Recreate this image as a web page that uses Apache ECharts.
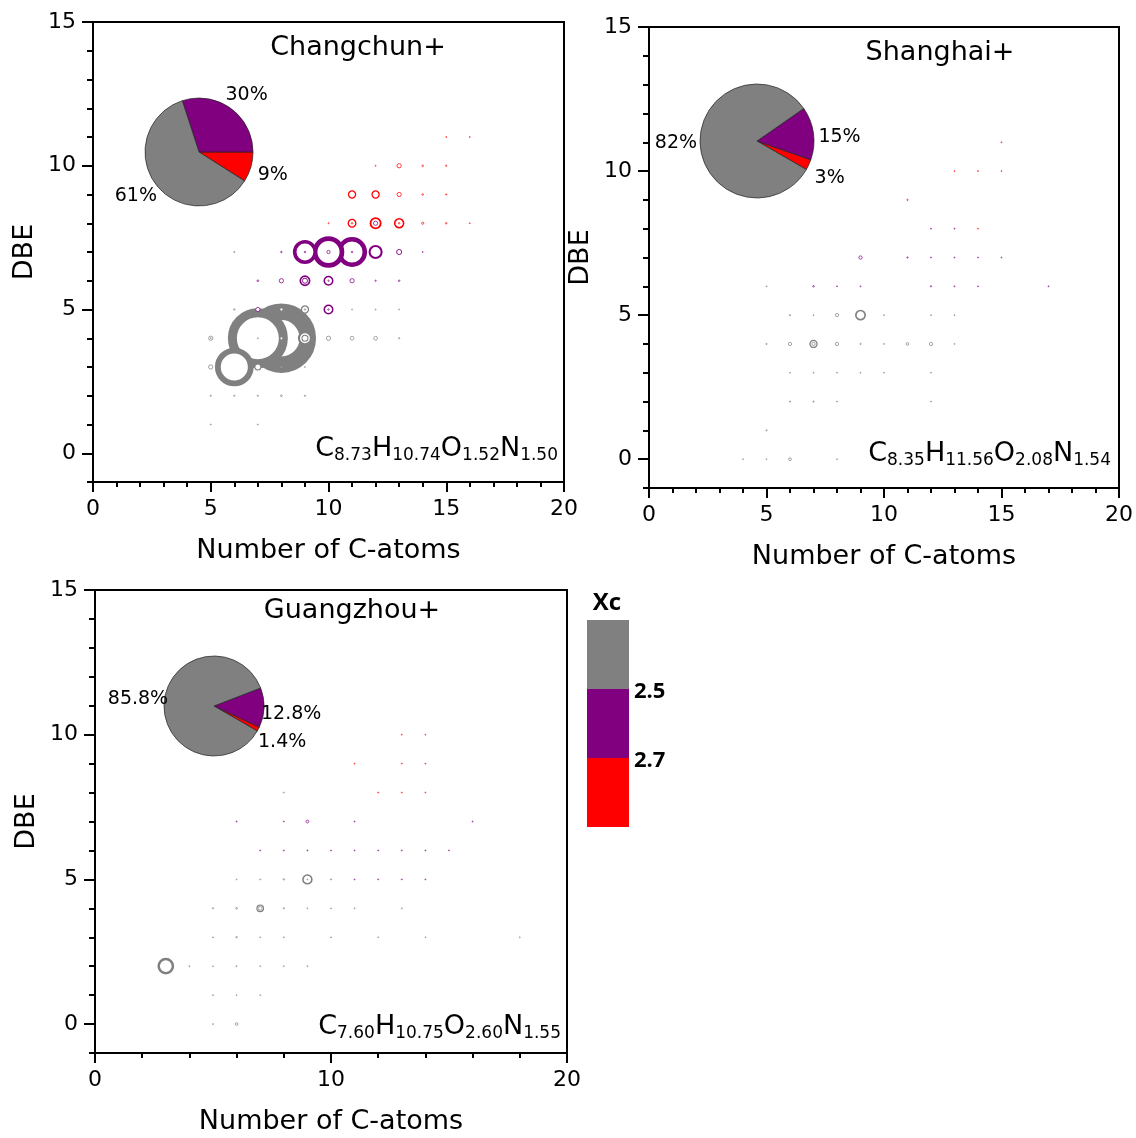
<!DOCTYPE html>
<html>
<head>
<meta charset="utf-8">
<script src="https://cdn.jsdelivr.net/npm/echarts@6/dist/echarts.min.js"></script>
<style>
  html, body { margin: 0; padding: 0; background: #fff; }
  #chart { width: 1136px; height: 1138px; }
</style>
</head>
<body>
<div id="chart"></div>
<script>
// ---- data -------------------------------------------------------------
const cityNames = ['Changchun+', 'Shanghai+', 'Guangzhou+'];

// Average formula subscripts: C, H, O, N
const changchunFormula = ['8.73', '10.74', '1.52', '1.50'];
const shanghaiFormula  = ['8.35', '11.56', '2.08', '1.54'];
const guangzhouFormula = ['7.60', '10.75', '2.60', '1.55'];

// Share of intensity per Xc class, ordered: Xc > 2.7, 2.5-2.7, Xc < 2.5 (%)
const changchunShares = [9, 30, 61];
const shanghaiShares  = [3, 15, 82];
const guangzhouShares = [1.4, 12.8, 85.8];

// Xc class boundaries and their colours (low, middle, high)
const xcBreaks = [2.5, 2.7];
const xcPalette = ['#808080', '#800080', '#ff0000'];

// Axis tick labels
const dbeTicks = [0, 5, 10, 15];

// Points: [number of C-atoms, DBE, relative intensity, Xc]
const changchunPoints = [
  [8, 4, 48, 2.30], [8, 4, 27, 2.36], [7, 4, 36, 2.22], [6, 3, 15, 2.14],
  [7, 3, 0.5, 2.20], [8, 3, 0.04, 2.35], [9, 3, 0.03, 2.40], [5, 3, 0.25, 2.05],
  [5, 1, 0.03, 2.00], [7, 1, 0.03, 2.10],
  [5, 2, 0.04, 2.00], [6, 2, 0.04, 2.10], [7, 2, 0.04, 2.15], [8, 2, 0.06, 2.20], [9, 2, 0.04, 2.25],
  [5, 4, 0.25, 2.20], [5, 4, 0.03, 2.20], [7, 4, 0.03, 2.30], [8, 4, 0.1, 2.35],
  [9, 4, 2.0, 2.40], [9, 4, 0.5, 2.42], [10, 4, 0.25, 2.45], [11, 4, 0.2, 2.45],
  [12, 4, 0.2, 2.47], [13, 4, 0.04, 2.48],
  [6, 5, 0.05, 2.30], [7, 5, 0.25, 2.55], [8, 5, 0.12, 2.40], [9, 5, 0.7, 2.45],
  [9, 5, 0.05, 2.42], [10, 5, 1.0, 2.60], [10, 5, 0.05, 2.60], [11, 5, 0.03, 2.45],
  [12, 5, 0.03, 2.46], [13, 5, 0.03, 2.48],
  [7, 6, 0.06, 2.55], [8, 6, 0.25, 2.58], [9, 6, 1.2, 2.60], [9, 6, 0.36, 2.62],
  [10, 6, 1.0, 2.63], [10, 6, 0.04, 2.63], [11, 6, 0.25, 2.65], [12, 6, 0.04, 2.66], [13, 6, 0.05, 2.68],
  [6, 7, 0.04, 2.40], [8, 7, 0.05, 2.55], [11, 7, 9, 2.65], [10, 7, 10, 2.63], [9, 7, 5.8, 2.60],
  [12, 7, 2.0, 2.66], [13, 7, 0.36, 2.68], [14, 7, 0.02, 2.69],
  [9, 7, 0.05, 2.60], [10, 7, 0.16, 2.62], [11, 7, 0.05, 2.64],
  [10, 8, 0.03, 2.72], [11, 8, 0.8, 2.75], [11, 8, 0.05, 2.76], [12, 8, 1.44, 2.78],
  [12, 8, 0.25, 2.60], [13, 8, 1.1, 2.80], [13, 8, 0.05, 2.80], [14, 8, 0.08, 2.82],
  [15, 8, 0.05, 2.84], [16, 8, 0.02, 2.85],
  [11, 9, 0.7, 2.85], [12, 9, 0.7, 2.86], [13, 9, 0.25, 2.88], [14, 9, 0.05, 2.90], [15, 9, 0.04, 2.90],
  [12, 10, 0.02, 2.90], [13, 10, 0.25, 2.92], [14, 10, 0.05, 2.93], [15, 10, 0.04, 2.94],
  [15, 11, 0.03, 2.95], [16, 11, 0.03, 2.96]
];

const shanghaiPoints = [
  [15, 11, 0.02, 2.90],
  [13, 10, 0.02, 2.80], [14, 10, 0.02, 2.80], [15, 10, 0.02, 2.85],
  [11, 9, 0.04, 2.85],
  [12, 8, 0.03, 2.65], [13, 8, 0.02, 2.68], [14, 8, 0.02, 2.72],
  [9, 7, 0.16, 2.60], [11, 7, 0.04, 2.62], [12, 7, 0.02, 2.65], [13, 7, 0.02, 2.66],
  [14, 7, 0.02, 2.68], [15, 7, 0.02, 2.69],
  [5, 6, 0.02, 2.40], [7, 6, 0.05, 2.55], [8, 6, 0.02, 2.56], [9, 6, 0.03, 2.58],
  [12, 6, 0.04, 2.62], [13, 6, 0.02, 2.64], [14, 6, 0.02, 2.65], [17, 6, 0.02, 2.66],
  [6, 5, 0.04, 2.30], [7, 5, 0.03, 2.35], [8, 5, 0.16, 2.40], [9, 5, 1.2, 2.42],
  [10, 5, 0.03, 2.45], [12, 5, 0.03, 2.46], [13, 5, 0.03, 2.47],
  [5, 4, 0.04, 2.20], [6, 4, 0.16, 2.25], [7, 4, 0.7, 2.30], [7, 4, 0.16, 2.30],
  [8, 4, 0.16, 2.35], [9, 4, 0.04, 2.38], [10, 4, 0.02, 2.40], [11, 4, 0.12, 2.42],
  [12, 4, 0.16, 2.44], [13, 4, 0.02, 2.45],
  [6, 3, 0.03, 2.20], [7, 3, 0.02, 2.25], [8, 3, 0.02, 2.30], [9, 3, 0.02, 2.32],
  [10, 3, 0.02, 2.35], [12, 3, 0.02, 2.40],
  [6, 2, 0.04, 2.10], [7, 2, 0.04, 2.15], [8, 2, 0.03, 2.20], [12, 2, 0.02, 2.30],
  [5, 1, 0.04, 2.00],
  [4, 0, 0.02, 1.90], [5, 0, 0.02, 1.95], [6, 0, 0.12, 2.00], [8, 0, 0.02, 2.05]
];

const guangzhouPoints = [
  [13, 10, 0.02, 2.85], [14, 10, 0.02, 2.86],
  [11, 9, 0.02, 2.80], [13, 9, 0.02, 2.82], [14, 9, 0.02, 2.84],
  [8, 8, 0.02, 2.40], [12, 8, 0.03, 2.78], [13, 8, 0.02, 2.80], [14, 8, 0.02, 2.82],
  [6, 7, 0.03, 2.55], [8, 7, 0.02, 2.56], [9, 7, 0.12, 2.60], [11, 7, 0.03, 2.62], [16, 7, 0.02, 2.66],
  [7, 6, 0.02, 2.55], [8, 6, 0.03, 2.58], [9, 6, 0.03, 2.60], [10, 6, 0.02, 2.61],
  [11, 6, 0.02, 2.62], [12, 6, 0.03, 2.63], [13, 6, 0.02, 2.64], [14, 6, 0.02, 2.65], [15, 6, 0.02, 2.66],
  [6, 5, 0.02, 2.30], [7, 5, 0.03, 2.35], [8, 5, 0.05, 2.38], [9, 5, 1.1, 2.40], [9, 5, 0.02, 2.40],
  [10, 5, 0.04, 2.42], [11, 5, 0.02, 2.55], [12, 5, 0.02, 2.56], [13, 5, 0.02, 2.57], [14, 5, 0.02, 2.58],
  [5, 4, 0.04, 2.20], [6, 4, 0.06, 2.25], [7, 4, 0.6, 2.30], [7, 4, 0.2, 2.30],
  [8, 4, 0.04, 2.35], [9, 4, 0.02, 2.38], [10, 4, 0.02, 2.40], [11, 4, 0.02, 2.42], [13, 4, 0.02, 2.45],
  [5, 3, 0.02, 2.10], [6, 3, 0.05, 2.15], [7, 3, 0.02, 2.20], [8, 3, 0.02, 2.25],
  [10, 3, 0.02, 2.30], [12, 3, 0.02, 2.35], [14, 3, 0.02, 2.40], [18, 3, 0.02, 2.45],
  [3, 2, 2.8, 2.00], [4, 2, 0.02, 2.05], [5, 2, 0.02, 2.10], [6, 2, 0.03, 2.12],
  [7, 2, 0.03, 2.15], [8, 2, 0.02, 2.20], [9, 2, 0.02, 2.25],
  [5, 1, 0.02, 2.00], [6, 1, 0.02, 2.05], [7, 1, 0.02, 2.10],
  [5, 0, 0.02, 1.90], [6, 0, 0.12, 1.95]
];

// ---- layout -----------------------------------------------------------
const FONT = 'DejaVu Sans';
const panels = [
  { grid: { left: 93, top: 22, width: 471, height: 460 }, xStep: 5,
    pie: { center: [199, 152], radius: 54, startAngle: -32.4 },
    labelNudge: [[2, 7], [-9, -11], [5, 9]],
    title: [358, 48], formulaAt: [558, 449],
    points: changchunPoints, shares: changchunShares, formula: changchunFormula },
  { grid: { left: 649, top: 27, width: 471, height: 461 }, xStep: 5,
    pie: { center: [757, 141], radius: 57, startAngle: -30 },
    labelNudge: [[1, 12], [0, 4], [2, 0]],
    title: [940, 53], formulaAt: [1111, 454],
    points: shanghaiPoints, shares: shanghaiShares, formula: shanghaiFormula },
  { grid: { left: 95, top: 590, width: 472, height: 463 }, xStep: 10,
    pie: { center: [214, 706], radius: 50, startAngle: -30 },
    labelNudge: [[-5, 12], [-8, 6], [9, -3]],
    title: [352, 611], formulaAt: [561, 1027],
    points: guangzhouPoints, shares: guangzhouShares, formula: guangzhouFormula }
];

function xcColor(xc) {
  if (xc < xcBreaks[0]) return xcPalette[0];
  if (xc <= xcBreaks[1]) return xcPalette[1];
  return xcPalette[2];
}
// ring geometry from intensity: outer diameter grows with sqrt(intensity)
function ringOuter(i) { return 10 * Math.sqrt(i); }
function ringWidth(i) { return Math.max(0.7, 0.15 * ringOuter(i)); }
function ringSize(i) { return Math.max(1, ringOuter(i) - ringWidth(i)); }

const axisBlack = { color: '#000', width: 2 };

const grids = panels.map(p => Object.assign({
  show: true, borderColor: '#000', borderWidth: 2, backgroundColor: 'transparent'
}, p.grid));

const xAxes = panels.map((p, i) => ({
  gridIndex: i, type: 'value', min: 0, max: 20, interval: p.xStep,
  position: 'bottom',
  axisLine: { show: true, onZero: false, lineStyle: axisBlack },
  axisTick: { show: true, length: 10, lineStyle: axisBlack },
  minorTick: { show: true, splitNumber: 5, length: 5, lineStyle: { color: '#000', width: 2 } },
  splitLine: { show: false },
  axisLabel: { color: '#000', fontSize: 22, fontFamily: FONT, margin: 16 },
  name: 'Number of C-atoms', nameLocation: 'middle', nameGap: 55,
  nameTextStyle: { color: '#000', fontSize: 27, fontFamily: FONT }
}));

const yAxes = [];
panels.forEach((p, i) => {
  yAxes.push({
    gridIndex: i, type: 'value', min: -1, max: 15, interval: 1, position: 'left',
    axisLine: { show: true, onZero: false, lineStyle: axisBlack },
    axisTick: { show: true, length: 6, lineStyle: axisBlack },
    splitLine: { show: false },
    axisLabel: { color: '#000', fontSize: 22, fontFamily: FONT, margin: 17,
      formatter: v => (dbeTicks.indexOf(v) >= 0 ? String(v) : '') },
    name: 'DBE', nameLocation: 'middle', nameGap: 55,
    nameTextStyle: { color: '#000', fontSize: 27, fontFamily: FONT }
  });
  yAxes.push({
    gridIndex: i, type: 'value', min: -1, max: 15, position: 'left',
    axisLine: { show: false },
    axisTick: { show: true, length: 11, customValues: dbeTicks, lineStyle: axisBlack },
    axisLabel: { show: false },
    splitLine: { show: false }
  });
});

const series = [];
panels.forEach((p, i) => {
  series.push({
    type: 'scatter', xAxisIndex: i, yAxisIndex: 2 * i, silent: true,
    symbol: 'circle',
    data: p.points.map(pt => ({
      value: pt,
      symbolSize: ringSize(pt[2]),
      itemStyle: { color: '#fff', borderColor: xcColor(pt[3]), borderWidth: ringWidth(pt[2]), opacity: 1 }
    }))
  });
  series.push({
    type: 'pie', silent: true, clockwise: false,
    center: p.pie.center, radius: p.pie.radius, startAngle: p.pie.startAngle,
    avoidLabelOverlap: false, z: 5,
    itemStyle: { borderColor: '#222', borderWidth: 0.7 },
    label: { show: true, position: 'outside', formatter: '{c}%', color: '#000',
      fontSize: 19, fontFamily: FONT, distanceToLabelLine: 2 },
    labelLine: { show: false, length: 3, length2: 0 },
    labelLayout: params => ({ dx: p.labelNudge[params.dataIndex][0], dy: p.labelNudge[params.dataIndex][1] }),
    data: p.shares.map((v, k) => ({ value: v, itemStyle: { color: xcPalette[2 - k] } }))
  });
});

const graphics = [];
panels.forEach((p, i) => {
  graphics.push({
    type: 'text', x: p.title[0], y: p.title[1],
    style: { text: cityNames[i], fill: '#000', font: '27px "' + FONT + '"',
      align: 'center', verticalAlign: 'middle' }
  });
  const f = p.formula;
  graphics.push({
    type: 'text', x: p.formulaAt[0], y: p.formulaAt[1],
    style: {
      text: '{m|C}{s|' + f[0] + '}{m|H}{s|' + f[1] + '}{m|O}{s|' + f[2] + '}{m|N}{s|' + f[3] + '}',
      align: 'right', verticalAlign: 'middle', fill: '#000',
      rich: {
        m: { fontSize: 27, fontFamily: FONT, lineHeight: 30, fill: '#000', verticalAlign: 'middle' },
        s: { fontSize: 17, fontFamily: FONT, lineHeight: 12, fill: '#000', verticalAlign: 'bottom' }
      }
    }
  });
});

// Xc colour key
const keyTop = 620, keyStep = 69;
xcPalette.forEach((c, k) => {
  graphics.push({ type: 'rect', shape: { x: 587, y: keyTop + k * keyStep, width: 42, height: keyStep },
    style: { fill: c } });
});
graphics.push({ type: 'text', x: 607, y: 603,
  style: { text: 'Xc', fill: '#000', font: 'bold 24px "Open Sans"', align: 'center', verticalAlign: 'middle' } });
xcBreaks.forEach((b, k) => {
  graphics.push({ type: 'text', x: 634, y: keyTop + (k + 1) * keyStep + 3,
    style: { text: b.toFixed(1), fill: '#000', font: 'bold 22px "Open Sans"', align: 'left', verticalAlign: 'middle' } });
});

const chart = echarts.init(document.getElementById('chart'), null, { renderer: 'canvas' });
chart.setOption({
  animation: false,
  backgroundColor: '#fff',
  grid: grids,
  xAxis: xAxes,
  yAxis: yAxes,
  series: series,
  graphic: graphics
});
</script>
</body>
</html>
